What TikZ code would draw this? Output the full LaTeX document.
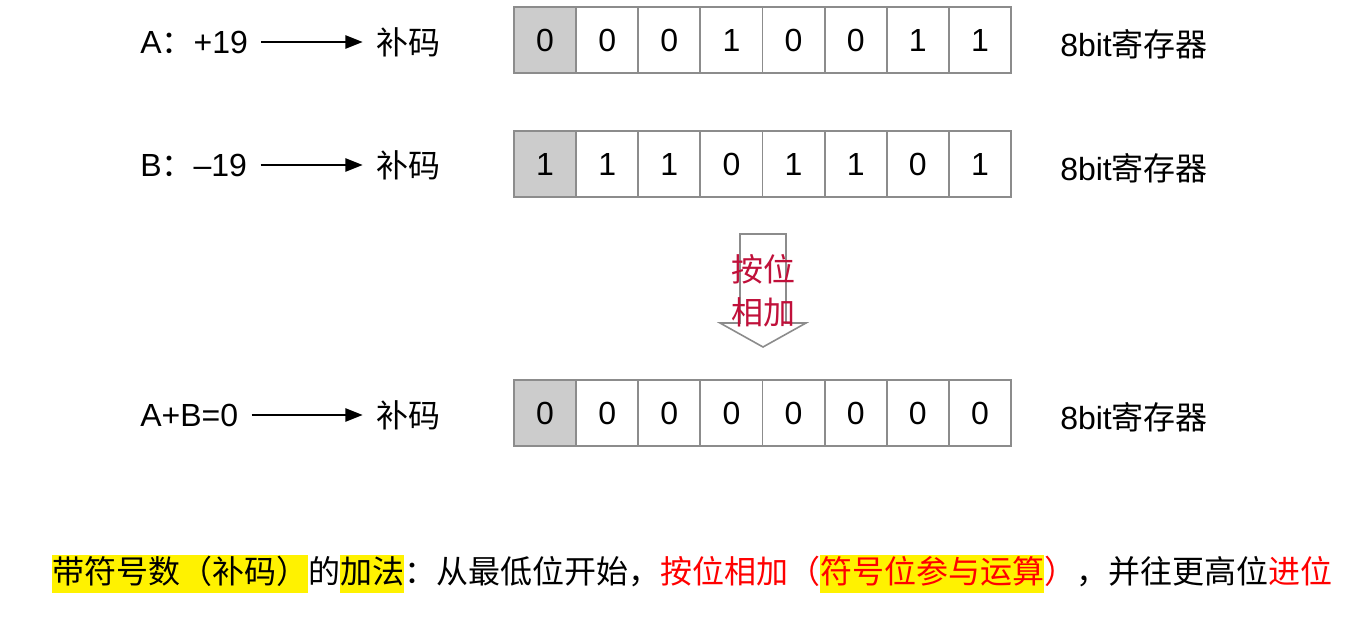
\documentclass[tikz,border=0pt]{standalone}
\usepackage{fontspec}
\setmainfont{Liberation Sans}
\newfontfamily\cjk{Noto Sans CJK SC}
\usetikzlibrary{arrows.meta}
\definecolor{cellgray}{HTML}{CCCCCC}
\definecolor{edgegray}{HTML}{8C8C8C}
\definecolor{addred}{HTML}{C0103A}
\newcommand{\hlbox}[1]{{\setlength{\fboxsep}{0pt}\colorbox{yellow}{\rule[-0.3em]{0pt}{1.19em}#1}}}
\tikzset{
  lbl/.style={font=\fontsize{24}{28}\selectfont, inner xsep=0pt},
  bitcell/.style={draw=edgegray, line width=1.4pt, fill=white, minimum width=46.6pt,
    minimum height=49.5pt, inner sep=0pt, font=\fontsize{24}{28}\selectfont},
  signbit/.style={fill=cellgray},
  conn/.style={-{Triangle[length=13pt,width=10pt]}, line width=1.2pt, shorten <=10pt, shorten >=10pt}
}
\begin{document}
\begin{tikzpicture}[x=0.75pt, y=-0.75pt]
  \useasboundingbox (0,0) rectangle (1361,631);
  % A
  \node[lbl, anchor=west] (lA) at (140,42) {A{\cjk ：}+19};
  \node[lbl, anchor=west] (cA) at (376,42) {\cjk 补码}; \draw[conn] (lA) -- (cA);
  \node[bitcell, signbit] (a0) at ({514+62.125*0.5},40) {0};
  \foreach \b [count=\i] in {0,0,1,0,0,1,1}
    \node[bitcell] (a\i) at ({514+62.125*(\i+0.5)},40) {\b};
  \node[lbl, anchor=west] (rA) at (1060,44) {8bit{\cjk 寄存器}};
  % B
  \node[lbl, anchor=west] (lB) at (140,165) {B{\cjk ：}\textendash19};
  \node[lbl, anchor=west] (cB) at (376,165) {\cjk 补码}; \draw[conn] (lB) -- (cB);
  \node[bitcell, signbit] (b0) at ({514+62.125*0.5},164) {1};
  \foreach \b [count=\i] in {1,1,0,1,1,0,1}
    \node[bitcell] (b\i) at ({514+62.125*(\i+0.5)},164) {\b};
  \node[lbl, anchor=west] (rB) at (1060,168) {8bit{\cjk 寄存器}};
  % A+B
  \node[lbl, anchor=west] (lS) at (140,415) {A+B=0};
  \node[lbl, anchor=west] (cS) at (376,415) {\cjk 补码}; \draw[conn] (lS) -- (cS);
  \node[bitcell, signbit] (s0) at ({514+62.125*0.5},413) {0};
  \foreach \b [count=\i] in {0,0,0,0,0,0,0}
    \node[bitcell] (s\i) at ({514+62.125*(\i+0.5)},413) {\b};
  \node[lbl, anchor=west] (rS) at (1060,417) {8bit{\cjk 寄存器}};
  % block arrow
  \draw[edgegray, line width=1.2pt, fill=white] (740,234) -- (786,234) -- (786,323)
    -- (806,323) -- (763,347) -- (720,323) -- (740,323) -- cycle;
  \node[text=addred, font=\cjk\fontsize{24}{32}\selectfont, align=center] (add) at (763,291)
    {按位\\相加};
  % note
  \node[anchor=west, inner sep=0pt, font=\cjk\fontsize{24}{28}\selectfont] (note) at (52,574)
    {\hlbox{带符号数（补码）}的\hlbox{加法}：从最低位开始，\textcolor{red}{按位相加（}\hlbox{\textcolor{red}{符号位参与运算}}\textcolor{red}{）}，并往更高位\textcolor{red}{进位}};
\end{tikzpicture}
\end{document}
